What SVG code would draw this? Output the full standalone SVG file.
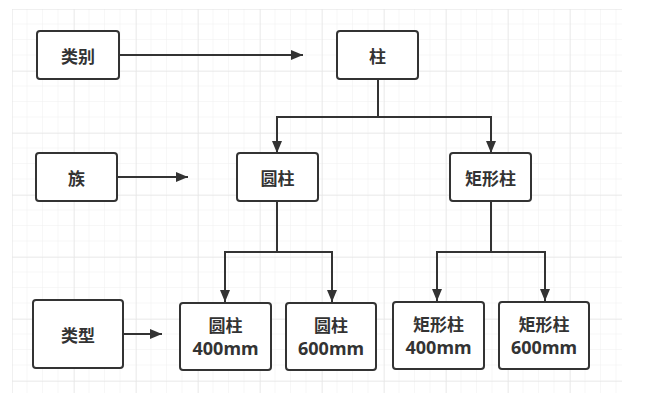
<svg xmlns="http://www.w3.org/2000/svg" width="647" height="401" viewBox="0 0 647 401">
<defs>
<pattern id="minor" x="12" y="9" width="15.5" height="15.5" patternUnits="userSpaceOnUse">
<path d="M15.5 0V15.5M0 15.5H15.5" fill="none" stroke="#efefef" stroke-width="1"/>
</pattern>
<pattern id="major" x="12" y="9" width="62" height="62" patternUnits="userSpaceOnUse">
<path d="M0 0V62M0 0H62" fill="none" stroke="#e2e2e2" stroke-width="1"/>
</pattern>
<marker id="arr" viewBox="0 0 12 10" refX="12" refY="5" markerWidth="12" markerHeight="10" markerUnits="userSpaceOnUse" orient="auto">
<path d="M0 0L12 5L0 10Z" fill="#333"/>
</marker>
<style>
.box{fill:#fff;stroke:#333;stroke-width:2}
.t{font-family:"Noto Sans CJK SC","Noto Sans",sans-serif;font-size:17px;font-weight:bold;fill:#333;text-anchor:middle;dominant-baseline:central}
.n{font-family:"Noto Sans","Noto Sans CJK SC",sans-serif;font-size:18px}
.c{fill:none;stroke:#333;stroke-width:2}
</style>
</defs>
<rect width="647" height="401" fill="#fff"/>
<rect x="12" y="9" width="610" height="384" fill="url(#minor)"/>
<rect x="12" y="9" width="610" height="384" fill="url(#major)"/>
<g id="connectors">
<path class="c" d="M119 55H303" marker-end="url(#arr)"/>
<path class="c" d="M118 177H188" marker-end="url(#arr)"/>
<path class="c" d="M123 334H162" marker-end="url(#arr)"/>
<path class="c" d="M378 79V117H277V153" marker-end="url(#arr)"/>
<path class="c" d="M378 117H491V153" marker-end="url(#arr)"/>
<path class="c" d="M277 201V252H225V302" marker-end="url(#arr)"/>
<path class="c" d="M277 252H332V302" marker-end="url(#arr)"/>
<path class="c" d="M491 201V252H437V301" marker-end="url(#arr)"/>
<path class="c" d="M491 252H545V301" marker-end="url(#arr)"/>
</g>
<g id="n-leibie"><rect class="box" x="37" y="31" width="82" height="48" rx="3"/><text class="t" x="78" y="55">类别</text></g>
<g id="n-zhu"><rect class="box" x="337" y="31" width="81" height="48" rx="3"/><text class="t" x="377.5" y="55">柱</text></g>
<g id="n-zu"><rect class="box" x="36" y="153" width="81" height="48" rx="3"/><text class="t" x="76.5" y="177">族</text></g>
<g id="n-yuanzhu"><rect class="box" x="237" y="153" width="81" height="48" rx="3"/><text class="t" x="277.5" y="177">圆柱</text></g>
<g id="n-juxingzhu"><rect class="box" x="450" y="153" width="81" height="48" rx="3"/><text class="t" x="490.5" y="177">矩形柱</text></g>
<g id="n-leixing"><rect class="box" x="33" y="300" width="90" height="68" rx="3"/><text class="t" x="78" y="334">类型</text></g>
<g id="n-yz400"><rect class="box" x="180" y="303" width="91" height="67" rx="3"/><text class="t" x="225.5" y="324">圆柱</text><text class="t n" x="225.5" y="348">400mm</text></g>
<g id="n-yz600"><rect class="box" x="286" y="303" width="90" height="67" rx="3"/><text class="t" x="331" y="324">圆柱</text><text class="t n" x="331" y="348">600mm</text></g>
<g id="n-jx400"><rect class="box" x="393" y="302" width="91" height="67" rx="3"/><text class="t" x="438.5" y="323">矩形柱</text><text class="t n" x="438.5" y="347">400mm</text></g>
<g id="n-jx600"><rect class="box" x="499" y="302" width="90" height="67" rx="3"/><text class="t" x="544" y="323">矩形柱</text><text class="t n" x="544" y="347">600mm</text></g>
</svg>
